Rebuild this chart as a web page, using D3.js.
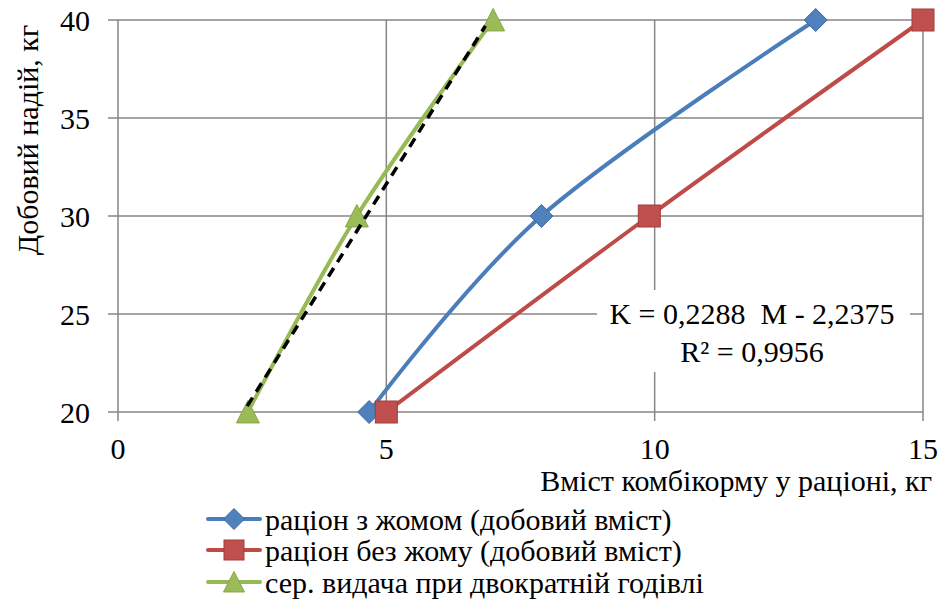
<!DOCTYPE html>
<html><head><meta charset="utf-8">
<script src="https://cdn.jsdelivr.net/npm/d3@7"></script>
</head><body style="margin:0;background:#fff"><svg id="c" width="939" height="603" font-family="Liberation Serif, Tinos, FreeSerif" style="display:block;font-family:'Liberation Serif',Tinos,FreeSerif"></svg>
<script>
const seriesNames = ["раціон з жомом (добовий вміст)", "раціон без жому (добовий вміст)", "сер. видача при двократній годівлі"];
const blueX = [4.68, 7.89, 13.0];
const blueY = [20, 30, 40];
const redX = [5.0, 9.9, 15.0];
const redY = [20, 30, 40];
const greenX = [2.42, 4.45, 6.99];
const greenY = [20, 30, 40];
const trendSlope = 0.2288, trendIntercept = -2.2375;
const trendM = [20.3, 39.7];
const xTicks = [0, 5, 10, 15];
const yTicks = [20, 25, 30, 35, 40];
const xTitle = "Вміст комбікорму у раціоні, кг";
const yTitle = "Добовий надій, кг";
const eqLines = ["K = 0,2288\u00a0 M - 2,2375", "R² = 0,9956"];

const svg = d3.select("#c");
const x = d3.scaleLinear().domain([0, 15]).range([118, 923]);
const y = d3.scaleLinear().domain([20, 40]).range([412, 20]);
const grid = "#868686";

function txt(sel, size) {
  return sel.attr("font-size", size).attr("fill", "#000");
}

// gridlines
svg.append("g").selectAll("line").data(yTicks).join("line")
  .attr("x1", x(0) - 10).attr("x2", x(15)).attr("y1", d => y(d)).attr("y2", d => y(d))
  .attr("stroke", grid).attr("stroke-width", 1.5);
svg.append("g").selectAll("line").data(xTicks).join("line")
  .attr("x1", d => x(d)).attr("x2", d => x(d)).attr("y1", y(40)).attr("y2", y(20) + 9)
  .attr("stroke", grid).attr("stroke-width", 1.5);

// tick labels
txt(svg.append("g").selectAll("text").data(yTicks).join("text")
  .attr("x", 90).attr("y", d => y(d)).attr("dy", "0.35em").attr("text-anchor", "end"), 30).text(d => d);
txt(svg.append("g").selectAll("text").data(xTicks).join("text")
  .attr("x", d => x(d)).attr("y", 448).attr("dy", "0.35em").attr("text-anchor", "middle"), 30).text(d => d);

// titles
txt(svg.append("text").attr("x", 932).attr("y", 480).attr("dy", "0.35em").attr("text-anchor", "end"), 30).text(xTitle);
txt(svg.append("text").attr("transform", "translate(27,140) rotate(-90)").attr("dy", "0.35em")
  .attr("text-anchor", "middle"), 30).text(yTitle);

// equation box
const eqG = svg.append("g");
eqG.append("rect").attr("x", 597).attr("y", 290).attr("width", 313).attr("height", 82).attr("fill", "#fff");
txt(eqG.selectAll("text").data(eqLines).join("text")
  .attr("x", 752).attr("y", (d, i) => 313 + i * 38).attr("dy", "0.35em").attr("text-anchor", "middle"), 30).text(d => d);

const series = [
  {xs: blueX, ys: blueY, line: "#4a7ebb", fill: "#4f81bd", stroke: "#3c6aa3", shape: "diamond"},
  {xs: redX, ys: redY, line: "#be4b48", fill: "#c0504d", stroke: "#a33d3a", shape: "square"},
  {xs: greenX, ys: greenY, line: "#98b954", fill: "#9bbb59", stroke: "#86a648", shape: "triangle"}
];
const lineGen = d3.line().x(d => x(d[0])).y(d => y(d[1])).curve(d3.curveCardinal.tension(0));

function marker(g, shape, cx, cy, s) {
  if (shape === "diamond") {
    g.append("path").attr("d", `M${cx},${cy - s}L${cx + s},${cy}L${cx},${cy + s}L${cx - s},${cy}Z`);
  } else if (shape === "square") {
    g.append("rect").attr("x", cx - s).attr("y", cy - s).attr("width", 2 * s).attr("height", 2 * s);
  } else {
    g.append("path").attr("d", `M${cx},${cy - s}L${cx + s},${cy + s * 0.95}L${cx - s},${cy + s * 0.95}Z`);
  }
}

series.forEach(s => {
  const pts = s.xs.map((v, i) => [v, s.ys[i]]);
  svg.append("path").datum(pts).attr("d", lineGen).attr("fill", "none")
    .attr("stroke", s.line).attr("stroke-width", 4).attr("stroke-linecap", "round");
  const mg = svg.append("g").attr("fill", s.fill).attr("stroke", s.stroke).attr("stroke-width", 1);
  pts.forEach(p => marker(mg, s.shape, x(p[0]), y(p[1]), s.shape === "square" ? 11 : 11.5));
});

// trend line (K = a*M + b)
svg.append("line")
  .attr("x1", x(trendSlope * trendM[0] + trendIntercept)).attr("y1", y(trendM[0]))
  .attr("x2", x(trendSlope * trendM[1] + trendIntercept)).attr("y2", y(trendM[1]))
  .attr("stroke", "#000").attr("stroke-width", 3.5).attr("stroke-dasharray", "10,7");

// legend
const legY = [519, 550, 582];
series.forEach((s, i) => {
  const g = svg.append("g");
  g.append("line").attr("x1", 208).attr("x2", 260).attr("y1", legY[i]).attr("y2", legY[i])
    .attr("stroke", s.line).attr("stroke-width", 4).attr("stroke-linecap", "round");
  const mg = g.append("g").attr("fill", s.fill).attr("stroke", s.stroke).attr("stroke-width", 1);
  marker(mg, s.shape, 234, legY[i], s.shape === "square" ? 10 : 10.5);
  txt(g.append("text").attr("x", 265).attr("y", legY[i]).attr("dy", "0.35em"), 30).text(seriesNames[i]);
});
</script></body></html>
